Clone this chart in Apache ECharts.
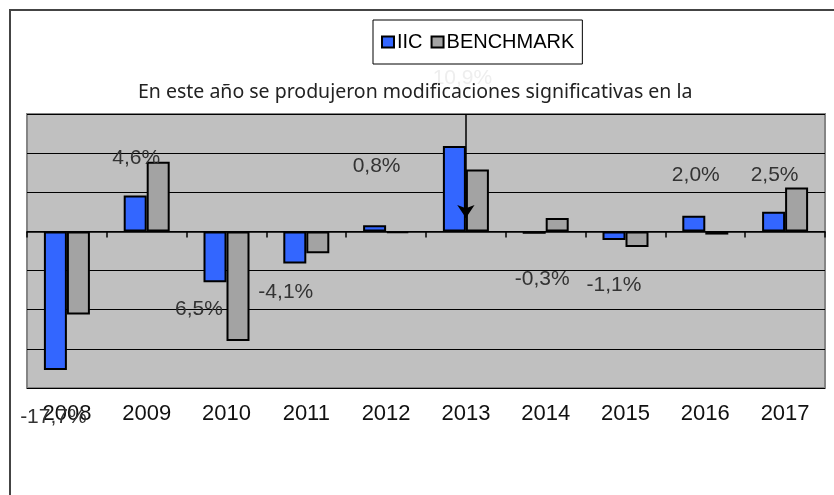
<!DOCTYPE html>
<html lang="es">
<head>
    <meta charset="UTF-8">
    <title>IIC vs BENCHMARK</title>
    <script src="https://cdn.jsdelivr.net/npm/echarts@6/dist/echarts.min.js"></script>
    <style>
        html, body { margin: 0; padding: 0; background: #fff; }
        #fig1 { width: 834px; height: 495px; }
    </style>
</head>
<body>
    <div id="fig1"></div>
    <script>
        // datos (%)
        let years = ['2008', '2009', '2010', '2011', '2012', '2013', '2014', '2015', '2016', '2017'];
        let iic = [-17.7, 4.6, -6.5, -4.1, 0.8, 10.9, -0.3, -1.1, 2.0, 2.5];
        let benchmark = [-10.6, 8.9, -14.0, -2.8, -0.2, 7.9, 1.7, -2.0, -0.4, 5.6];
        let iicLabels = ['-17,7%', '4,6%', '6,5%', '-4,1%', '0,8%', '10,9%', '-0,3%', '-1,1%', '2,0%', '2,5%'];
        let note = 'En este año se produjeron modificaciones significativas en la';
        let noteYear = '2013';

        // desplazamiento de cada etiqueta respecto al centro de su barra (px)
        let labelShift = [[-2, 116], [1, -55], [-16, 52], [-9, 45], [2, -62],
                          [8, -111], [8, 47], [0, 49], [2, -48], [1, -46]];

        let fontArial = 'Liberation Sans, Arial, sans-serif';

        let fig1 = echarts.init(document.getElementById('fig1'), null, {renderer: 'canvas'});

        let iicData = iic.map(function (v, i) {
            return {
                value: v,
                label: {
                    offset: labelShift[i],
                    formatter: iicLabels[i],
                    // la etiqueta de 2013 queda casi tapada por la nota
                    color: years[i] === noteYear ? '#eeeeee' : '#333'
                }
            };
        });

        let option = {
            animation: false,
            backgroundColor: '#fff',
            graphic: [{
                type: 'rect',
                z: -10,
                shape: {x: 10, y: 10, width: 900, height: 600},
                style: {fill: 'none', stroke: '#444', lineWidth: 2}
            }],
            title: {
                text: note,
                left: 133,
                top: 77,
                z: 20,
                textStyle: {
                    fontFamily: 'Noto Sans, sans-serif',
                    fontSize: 19.5,
                    fontWeight: 'normal',
                    color: '#222'
                }
            },
            legend: {
                data: ['IIC', 'BENCHMARK'],
                left: 373,
                top: 20,
                backgroundColor: '#fff',
                borderColor: '#000',
                borderWidth: 1,
                borderRadius: 0,
                padding: [12, 8, 12, 8],
                itemGap: 8,
                itemWidth: 12,
                itemHeight: 11,
                icon: 'rect',
                selectedMode: false,
                itemStyle: {borderColor: '#000', borderWidth: 2},
                textStyle: {fontFamily: fontArial, fontSize: 20, color: '#000', padding: [0, 0, 0, -2]}
            },
            grid: {
                left: 27,
                right: 9,
                top: 114,
                bottom: 107,
                show: true,
                backgroundColor: '#c0c0c0',
                borderColor: '#858585',
                borderWidth: 2,
                outerBoundsMode: 'none'
            },
            xAxis: [{
                type: 'category',
                data: years,
                position: 'bottom',
                axisLine: {onZero: true, lineStyle: {color: '#000', width: 1.5}},
                axisTick: {show: true, interval: 0, inside: false, length: 6, lineStyle: {color: '#000', width: 1.5}},
                axisLabel: {show: false},
                splitLine: {show: false}
            }, {
                type: 'category',
                data: years,
                position: 'bottom',
                axisLine: {show: false, onZero: false},
                axisTick: {show: false},
                axisLabel: {
                    show: true,
                    interval: 0,
                    margin: 15,
                    fontFamily: fontArial,
                    fontSize: 22,
                    color: '#111'
                },
                splitLine: {show: false}
            }],
            yAxis: {
                type: 'value',
                min: -20,
                max: 15,
                interval: 5,
                axisLine: {show: false},
                axisTick: {show: false},
                axisLabel: {show: false},
                splitLine: {show: true, lineStyle: {color: '#000', width: 1.2}}
            },
            series: [{
                name: 'IIC',
                type: 'bar',
                xAxisIndex: 0,
                data: iicData,
                barWidth: 23,
                barGap: '0%',
                itemStyle: {color: '#3366ff', borderColor: '#000', borderWidth: 2},
                label: {
                    show: true,
                    position: 'inside',
                    fontFamily: fontArial,
                    fontSize: 21
                },
                z: 3
            }, {
                name: 'BENCHMARK',
                type: 'bar',
                xAxisIndex: 0,
                data: benchmark,
                barWidth: 23,
                barGap: '0%',
                itemStyle: {color: '#a3a3a3', borderColor: '#000', borderWidth: 2},
                z: 2
            }, {
                // serie vacía que sólo lleva la flecha de la nota
                name: 'nota',
                type: 'line',
                xAxisIndex: 0,
                data: [],
                z: 10,
                markLine: {
                    silent: true,
                    symbol: ['none', 'arrow'],
                    symbolSize: 13,
                    label: {show: false},
                    lineStyle: {color: '#000', width: 1.5, type: 'solid'},
                    data: [[{coord: [noteYear, 15]}, {coord: [noteYear, 1.7]}]]
                }
            }]
        };

        fig1.setOption(option);
    </script>
</body>
</html>
